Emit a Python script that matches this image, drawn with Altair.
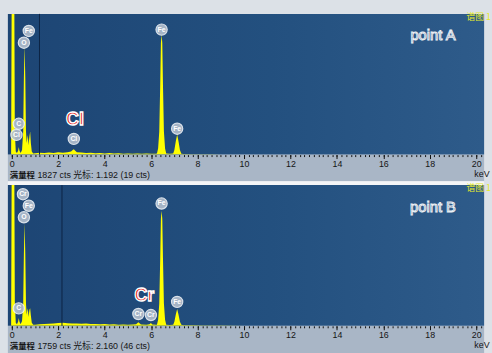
import altair as alt
import pandas as pd

# ---- spectrum of point A (energy in keV, counts) ----
energy_a = [-0.17, -0.03, 0.00, 0.10, 0.13, 0.17, 0.22, 0.27, 0.30, 0.33, 0.38, 0.44,
            0.49, 0.52, 0.55, 0.58, 0.61, 0.64, 0.66, 0.69, 0.72, 0.76, 0.79, 0.82, 0.86,
            0.92, 1.0, 1.2, 1.4, 1.6, 1.8, 2.0, 2.2, 2.4, 2.55, 2.62, 2.67, 2.72, 2.8,
            3.0, 3.2, 3.4, 3.6, 3.8, 4.0, 4.2, 4.4, 4.6, 4.8, 5.0, 5.2, 5.4, 5.6, 5.8,
            6.0, 6.2, 6.25, 6.30, 6.35, 6.39, 6.42, 6.45, 6.48, 6.51, 6.55, 6.60, 6.65,
            6.80, 6.95, 7.00, 7.06, 7.12, 7.18, 7.24, 7.30, 7.4, 7.8, 8.2, 8.6, 9.0,
            10.0, 12.0, 20.34]
counts_a = [0, 0, 2600, 2600, 300, 40, 20, 50, 100, 50, 20, 60,
            300, 1000, 1420, 1000, 300, 150, 200, 255, 120, 240, 300, 150, 40,
            15, 18, 25, 20, 28, 22, 30, 24, 32, 40, 60, 70, 55, 30,
            26, 22, 25, 18, 22, 16, 20, 14, 18, 12, 16, 12, 15, 10, 13,
            10, 12, 15, 80, 300, 900, 1450, 1560, 1450, 900, 300, 80, 15,
            10, 15, 60, 170, 260, 170, 60, 12, 8, 6, 5, 4, 3,
            2, 1, 0]

# ---- spectrum of point B ----
energy_b = [-0.17, -0.03, 0.00, 0.10, 0.13, 0.17, 0.22, 0.27, 0.30, 0.33, 0.38, 0.44,
            0.49, 0.52, 0.55, 0.58, 0.61, 0.64, 0.66, 0.69, 0.72, 0.76, 0.79, 0.82, 0.86,
            0.92, 1.0, 1.2, 1.4, 1.6, 1.8, 2.0, 2.2, 2.4, 2.6, 2.8, 3.0, 3.2, 3.4, 3.6,
            3.8, 4.0, 4.2, 4.4, 4.6, 4.8, 5.0, 5.2, 5.35, 5.45, 5.56, 5.8, 5.93, 5.99,
            6.05, 6.2, 6.25, 6.30, 6.35, 6.39, 6.42, 6.45, 6.48, 6.51, 6.55, 6.60, 6.65,
            6.80, 6.95, 7.00, 7.06, 7.12, 7.18, 7.24, 7.30, 7.4, 7.8, 8.2, 8.6, 9.0,
            10.0, 12.0, 20.34]
counts_b = [0, 0, 2500, 2500, 300, 40, 20, 50, 98, 50, 20, 60,
            280, 900, 1290, 900, 280, 140, 180, 220, 110, 200, 220, 130, 40,
            15, 15, 20, 22, 25, 28, 35, 40, 32, 30, 28, 25, 28, 22, 24,
            20, 22, 18, 20, 15, 17, 14, 16, 20, 45, 18, 14, 20, 35,
            16, 12, 15, 75, 280, 840, 1340, 1440, 1340, 840, 280, 75, 15,
            10, 14, 50, 140, 210, 140, 50, 12, 8, 6, 5, 4, 3,
            2, 1, 0]

# ---- peak markers (symbol, energy keV, marker height in counts) ----
sym_a = ["Fe", "O", "C", "Cl", "Cl", "Fe", "Fe"]
pos_a = [0.73, 0.52, 0.30, 0.20, 2.67, 6.45, 7.12]
hgt_a = [1606, 1453, 400, 256, 204, 1623, 336]

sym_b = ["Cr", "Fe", "O", "C", "Fe", "Cr", "Cr", "Fe"]
pos_b = [0.48, 0.73, 0.52, 0.30, 6.45, 5.45, 5.99, 7.12]
hgt_b = [1645, 1501, 1357, 218, 1529, 148, 135, 299]

# highlighted element per spectrum
hl_a = ("Cl", 2.72, 447)
hl_b = ("Cr", 5.71, 373)

full_a, cursor_a, cursor_cts_a = 1827, 1.192, 19
full_b, cursor_b, cursor_cts_b = 1759, 2.160, 46

tick_labels = [0, 2, 4, 6, 8, 10, 12, 14, 16, 18, 20]
minor_ticks = [round(i * 0.2, 1) for i in range(0, 102)]

W, H = 484, 143
X_DOMAIN = [-0.17, 20.34]
BG = alt.Gradient(
    gradient="linear", x1=0, x2=1, y1=0, y2=0,
    stops=[alt.GradientStop(color="#1d4574", offset=0),
           alt.GradientStop(color="#23507f", offset=0.55),
           alt.GradientStop(color="#2e5b8a", offset=1)],
)


def panel(energy, counts, syms, pos, hgt, hl, full, cursor, cursor_cts, tag, last):
    one = pd.DataFrame({"k": [0]})
    xs = alt.Scale(domain=X_DOMAIN, nice=False, zero=False)
    ys = alt.Scale(domain=[0, full], nice=False)

    strip_bottom = 200 if last else 170
    strip = alt.Chart(one).mark_rect(fill="#a9b6c6", clip=False).encode(
        x=alt.value(0), x2=alt.value(W), y=alt.value(H), y2=alt.value(strip_bottom))
    layers = [strip]
    if not last:
        band = alt.Chart(one).mark_rect(fill="#f4f5f7", clip=False).encode(
            x=alt.value(0), x2=alt.value(W), y=alt.value(170), y2=alt.value(174))
        layers.append(band)
    bg = alt.Chart(one).mark_rect(fill=BG).encode(
        x=alt.value(0), x2=alt.value(W), y=alt.value(0), y2=alt.value(H))
    layers.append(bg)

    spec = pd.DataFrame({"e": energy, "c": counts})
    area = alt.Chart(spec).mark_area(color="#ffff00", clip=True, interpolate="linear").encode(
        x=alt.X("e:Q", scale=xs, axis=alt.Axis(
            values=minor_ticks, labels=False, ticks=True, tickSize=2, tickColor="#111111",
            domain=False, grid=False, title=None, orient="bottom", zindex=2)),
        y=alt.Y("c:Q", scale=ys, axis=None),
    )
    layers.append(area)

    cur = alt.Chart(pd.DataFrame({"e": [cursor]})).mark_rule(color="#0c2443", strokeWidth=1).encode(
        x=alt.X("e:Q", scale=xs, axis=alt.Axis(
            values=tick_labels, tickSize=4, tickColor="#111111", labelFontSize=9,
            labelColor="#151515", labelFont="Liberation Sans", labelPadding=1,
            domain=False, grid=False, title=None, orient="bottom", zindex=2)),
        y=alt.value(0), y2=alt.value(H))
    layers.append(cur)

    lbl = pd.DataFrame({"s": syms, "e": pos, "c": hgt})
    base = alt.Chart(lbl).encode(x=alt.X("e:Q", scale=xs, axis=None),
                                 y=alt.Y("c:Q", scale=ys, axis=None))
    layers.append(base.mark_circle(size=130, color="#b4c0cf", opacity=0.9,
                                   stroke="#eef2f6", strokeWidth=1.2))
    layers.append(base.mark_text(fontSize=7, fontWeight="bold", color="#ffffff",
                                 font="Liberation Sans").encode(text="s:N"))

    hld = pd.DataFrame({"s": [hl[0]], "e": [hl[1]], "c": [hl[2]]})
    layers.append(alt.Chart(hld).mark_text(
        fontSize=18, fontWeight="bold", color="#e3211c", stroke="#ffffff", strokeWidth=1.3,
        font="Liberation Sans").encode(
        x=alt.X("e:Q", scale=xs, axis=None), y=alt.Y("c:Q", scale=ys, axis=None), text="s:N"))

    texts = pd.DataFrame({"t": [tag]})
    layers.append(alt.Chart(texts).mark_text(
        fontSize=15, color="#1b3a66", stroke="#e9eef3", strokeWidth=1, align="center",
        font="Liberation Sans").encode(x=alt.value(432), y=alt.value(22), text="t:N"))
    layers.append(alt.Chart(pd.DataFrame({"t": ["谱图 1"]})).mark_text(
        fontSize=9, color="#e6ea2a", align="left", baseline="middle",
        font="Noto Sans CJK SC").encode(x=alt.value(466), y=alt.value(3), text="t:N"))
    layers.append(alt.Chart(pd.DataFrame({"t": ["满量程"]})).mark_text(
        fontSize=8.5, fontWeight="bold", color="#151515", align="left", baseline="middle",
        font="Noto Sans CJK SC").encode(x=alt.value(2), y=alt.value(164), text="t:N"))
    status = f"{full} cts 光标: {cursor:.3f}  ({cursor_cts} cts)"
    layers.append(alt.Chart(pd.DataFrame({"t": [status]})).mark_text(
        fontSize=9, color="#151515", align="left", baseline="middle",
        font="Liberation Sans, Noto Sans CJK SC").encode(x=alt.value(30), y=alt.value(164), text="t:N"))
    layers.append(alt.Chart(pd.DataFrame({"t": ["keV"]})).mark_text(
        fontSize=9, color="#151515", align="left", baseline="middle",
        font="Liberation Sans").encode(x=alt.value(474), y=alt.value(163), text="t:N"))

    return alt.layer(*layers).resolve_axis(x="independent").properties(width=W, height=H)


top = panel(energy_a, counts_a, sym_a, pos_a, hgt_a, hl_a, full_a, cursor_a, cursor_cts_a,
            "point A", False)
bottom = panel(energy_b, counts_b, sym_b, pos_b, hgt_b, hl_b, full_b, cursor_b, cursor_cts_b,
               "point B", True)

chart = alt.vconcat(top, bottom, spacing=31, bounds="flush").properties(
    padding={"left": 8, "top": 10, "right": 0, "bottom": 0},
    background="#dce1e7",
).configure_view(stroke=None)

chart.save("out.html", embed_options={"renderer": "svg", "actions": False})
